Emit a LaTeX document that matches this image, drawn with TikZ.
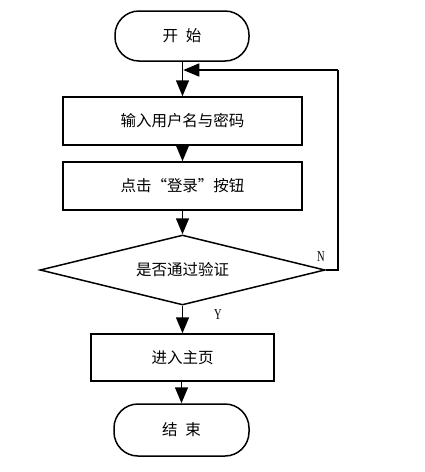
\documentclass[tikz,border=0pt]{standalone}
\usepackage{fontspec}
\newfontfamily\cjk{Noto Sans CJK SC}
\newfontfamily\latn[FakeStretch=0.7]{Liberation Serif}
\usetikzlibrary{shapes.geometric,arrows.meta}
\begin{document}
\begin{tikzpicture}[x=1pt,y=-1pt,
  every node/.style={font=\cjk\fontsize{15.5}{18}\selectfont, inner sep=0pt},
  term/.style={draw, line width=1.5pt, rounded corners=24pt},
  procbox/.style={draw, line width=1.5pt},
  decide/.style={draw, line width=1.5pt, diamond, aspect=4.07},
  conn/.style={line width=1.5pt, -{Triangle[length=16pt,width=13pt]}},
  lbl/.style={font=\latn\fontsize{15}{17}\selectfont}]
\useasboundingbox (0,0) rectangle (425,472);
\node[term, minimum width=134pt, minimum height=50pt] (start) at (182,36) {开\hspace{8pt}始};
\node[procbox, minimum width=239pt, minimum height=48pt] (input) at (182.5,121) {输入用户名与密码};
\node[procbox, minimum width=239pt, minimum height=48pt] (click) at (182.5,186) {点击“登录”按钮};
\node[decide, minimum width=285pt, minimum height=70pt] (check) at (182.5,270) {是否通过验证};
\node[procbox, minimum width=183pt, minimum height=47pt] (home) at (182.5,357.5) {进入主页};
\node[term, minimum width=135pt, minimum height=52pt] (stop) at (181.5,430) {结\hspace{8pt}束};
\coordinate (merge) at (182.5,70);
\coordinate (loopR) at (338,270);
\coordinate (loopT) at (338,70);
\draw[conn] (start.south -| input.north) -- (input.north);
\draw[conn] (input) -- (click);
\draw[conn] (click) -- (check.north);
\draw[conn] (check.south) -- (home.north);
\draw[conn] (home.south -| stop.north) -- (stop.north);
\draw[line width=1.5pt] (check.east) -- (loopR) -- (loopT);
\draw[conn] (loopT) -- ([xshift=0.75pt]merge);
\node[lbl] (nlabel) at (321,257) {N};
\node[lbl] (ylabel) at (218,315) {Y};
\end{tikzpicture}
\end{document}
